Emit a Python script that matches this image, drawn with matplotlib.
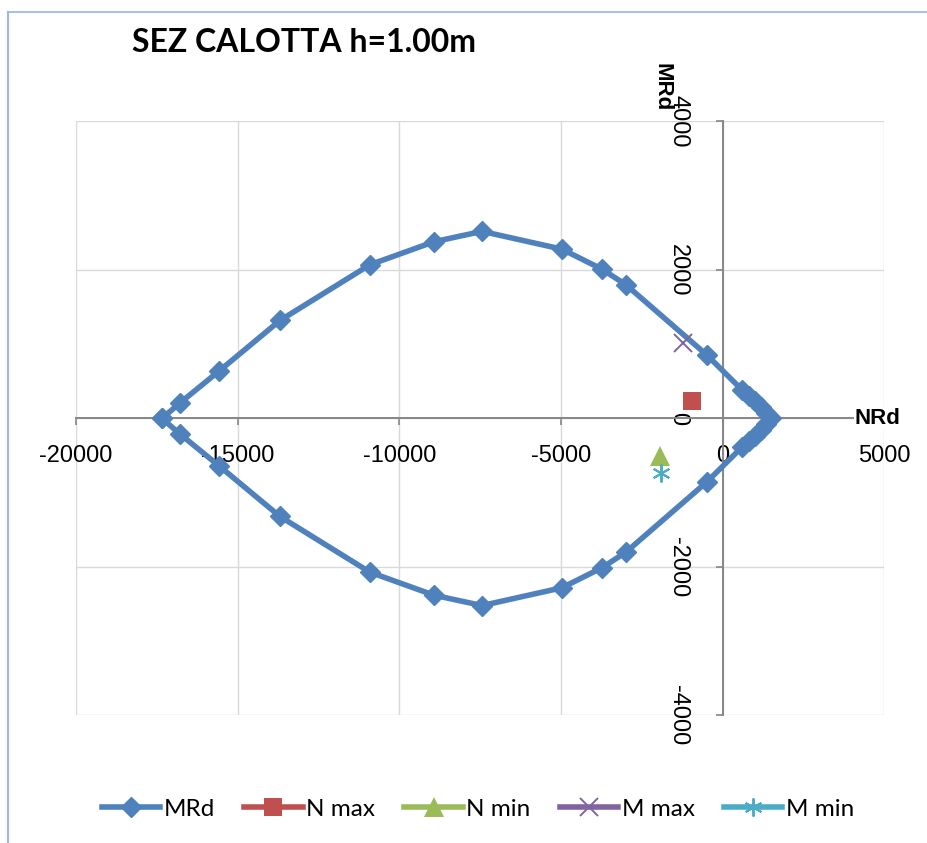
import matplotlib
matplotlib.use("Agg")
import matplotlib.pyplot as plt
from matplotlib.lines import Line2D

# dominio di resistenza N-M, sezione calotta h=1.00m
nrd = [-17340, -16780, -15570, -13690, -10910, -8930, -7440, -4970, -3730, -2990,
       -490, 600, 800, 1000, 1200, 1350, 1490,
       1350, 1200, 1000, 800, 600, -490,
       -2990, -3730, -4970, -7440, -8930, -10910, -13690, -15570, -16780, -17340]
mrd = [0, 210, 640, 1320, 2070, 2380, 2520, 2280, 2010, 1800,
       855, 385, 305, 230, 150, 80, 0,
       -80, -150, -230, -305, -385, -855,
       -1800, -2010, -2280, -2520, -2380, -2070, -1320, -640, -210, 0]

# sollecitazioni di progetto
n_max = ([-960], [235])
n_min = ([-1930], [-510])
m_max = ([-1240], [1010])
m_min = ([-1910], [-740])

xticks = [-20000, -15000, -10000, -5000, 0, 5000]
yticks = [-4000, -2000, 0, 2000, 4000]

fig = plt.figure(figsize=(9.27, 8.43), dpi=100)
ax = fig.add_axes([0.0819, 0.1513, 0.954 - 0.0819, 0.8559 - 0.1513])

ax.plot(nrd, mrd, '-', color='#4F81BD', lw=4, marker='D', ms=10.5,
        mec='#4F81BD', label='MRd', zorder=3)
ax.plot(*n_max, '-', color='#C0504D', lw=4, marker='s', ms=13, mew=0, label='N max', zorder=4)
ax.plot(*n_min, '-', color='#9BBB59', lw=4, marker='^', ms=15, mew=0, label='N min', zorder=4)
ax.plot(*m_max, '-', color='#8064A2', lw=4, marker='x', ms=13, mew=1.4, label='M max', zorder=4)
ax.plot(*m_min, '-', color='#4BACC6', lw=4, marker=(6, 2, 0), ms=13, mew=1.4, label='M min', zorder=4)

ax.set_xlim(-20000, 5000)
ax.set_ylim(-4000, 4000)
ax.set_xticks(xticks)
ax.set_yticks(yticks)
ax.set_xticklabels([str(v) for v in xticks])
ax.set_yticklabels([str(v) for v in yticks])

ax.grid(True, color='#d9d9d9', lw=1.0)
ax.set_axisbelow(True)

for s in ['top', 'right']:
    ax.spines[s].set_visible(False)
for s in ['left', 'bottom']:
    ax.spines[s].set_position(('data', 0))
    ax.spines[s].set_color('#868686')
    ax.spines[s].set_linewidth(1.4)
    ax.spines[s].set_zorder(2)

ax.tick_params(axis='both', direction='out', length=5, width=1.2, color='#868686',
               labelsize=17, labelcolor='black')
ax.tick_params(axis='x', pad=14)
ax.tick_params(axis='y', pad=19, labelrotation=-90)
for lab in ax.get_xticklabels() + ax.get_yticklabels():
    lab.set_fontfamily('Liberation Sans')
for lab in ax.get_yticklabels():
    lab.set_verticalalignment('center')
    lab.set_horizontalalignment('right')

ax.annotate('MRd', xy=(0, 4000), xytext=(-43.7, 24.8), textcoords='offset points',
            rotation=-90, ha='center', va='center', fontsize=16, fontweight='bold',
            family='Liberation Sans', annotation_clip=False)
ax.annotate('NRd', xy=(5000, 0), xytext=(-5, 0), textcoords='offset points',
            ha='center', va='center', fontsize=16, fontweight='bold',
            family='Liberation Sans', annotation_clip=False,
            bbox=dict(fc='white', ec='none', pad=0.5), zorder=5)

fig.text(304 / 927, 1 - 42.5 / 843, 'SEZ CALOTTA h=1.00m', ha='center', va='center',
         fontsize=23, fontweight='bold', family='Lato')

fig.legend(loc='center', bbox_to_anchor=(478 / 927, 1 - 809 / 843), ncol=5, frameon=False,
           handlelength=2.4, handletextpad=0.15, columnspacing=1.2,
           prop={'family': 'Lato', 'size': 17.5})

# cornice del grafico
fig.add_artist(Line2D([8 / 927, 1], [1 - 12 / 843] * 2, transform=fig.transFigure,
                      color='#a9c0e8', lw=1.5))
fig.add_artist(Line2D([8 / 927] * 2, [0, 1 - 12 / 843], transform=fig.transFigure,
                      color='#9fb6e4', lw=1.5))

fig.savefig('out.png', dpi=100)
